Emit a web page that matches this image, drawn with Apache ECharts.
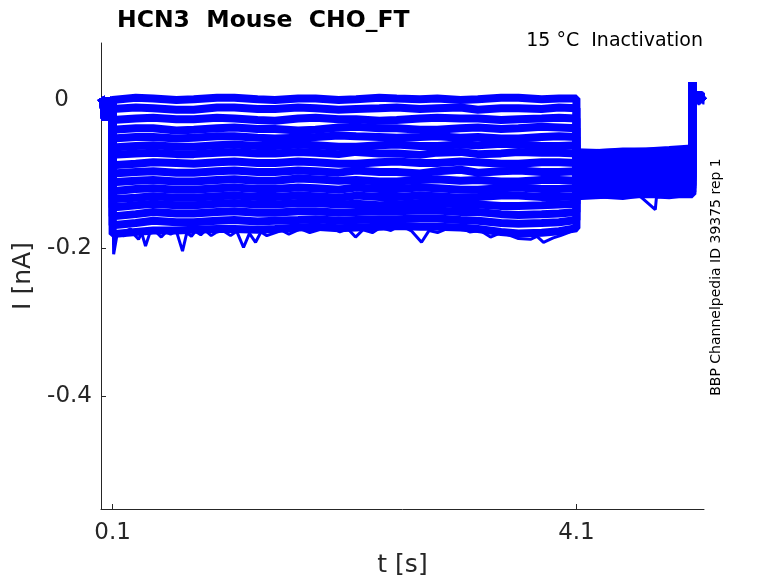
<!DOCTYPE html>
<html>
<head>
<meta charset="utf-8">
<script src="https://cdn.jsdelivr.net/npm/echarts@6/dist/echarts.min.js"></script>
<style>
  html, body { margin: 0; padding: 0; background: #fff; }
  #chart { width: 778px; height: 583px; }
</style>
</head>
<body>
<div id="chart"></div>
<script>
// holding before the step (shared by all sweeps)
const preTimes = [0, 0.02, 0.035, 0.045, 0.06, 0.08, 0.099];
const preValues = [0.003, -0.002, -0.027, -0.008, 0.001, -0.003, 0.0];

// step segment, 0.1 - 4.1 s
const stepTimes = [0.1, 0.3, 0.45, 0.65, 0.8, 1.0, 1.15, 1.35, 1.5, 1.7, 1.85, 2.05, 2.2, 2.4, 2.55, 2.75, 2.9, 3.1, 3.25, 3.45, 3.6, 3.8, 3.95, 4.1];
const sweepValues = [
  [0.001, 0.003, 0.002, 0.000, 0.001, 0.003, 0.003, 0.001, 0.000, 0.002, 0.002, 0.000, 0.001, 0.003, 0.002, 0.001, 0.002, 0.000, 0.001, 0.003, 0.003, 0.001, 0.002, 0.002],
  [-0.012, -0.010, -0.011, -0.013, -0.013, -0.010, -0.010, -0.012, -0.012, -0.010, -0.011, -0.013, -0.012, -0.011, -0.010, -0.012, -0.011, -0.010, -0.013, -0.011, -0.011, -0.012, -0.010, -0.011],
  [-0.027, -0.025, -0.024, -0.026, -0.026, -0.024, -0.025, -0.027, -0.028, -0.025, -0.024, -0.026, -0.026, -0.028, -0.027, -0.025, -0.024, -0.025, -0.025, -0.027, -0.026, -0.025, -0.024, -0.025],
  [-0.040, -0.038, -0.038, -0.041, -0.040, -0.038, -0.037, -0.039, -0.039, -0.041, -0.040, -0.037, -0.036, -0.038, -0.038, -0.040, -0.040, -0.038, -0.037, -0.039, -0.038, -0.036, -0.037, -0.038],
  [-0.052, -0.050, -0.050, -0.052, -0.051, -0.049, -0.049, -0.051, -0.052, -0.051, -0.050, -0.048, -0.049, -0.050, -0.051, -0.050, -0.049, -0.051, -0.050, -0.052, -0.052, -0.050, -0.049, -0.050],
  [-0.064, -0.062, -0.061, -0.063, -0.063, -0.061, -0.060, -0.062, -0.062, -0.060, -0.061, -0.063, -0.063, -0.061, -0.060, -0.062, -0.062, -0.060, -0.061, -0.059, -0.060, -0.062, -0.062, -0.061],
  [-0.074, -0.072, -0.071, -0.073, -0.073, -0.071, -0.070, -0.072, -0.072, -0.070, -0.071, -0.073, -0.070, -0.072, -0.072, -0.074, -0.071, -0.070, -0.073, -0.072, -0.070, -0.071, -0.071, -0.072],
  [-0.088, -0.086, -0.084, -0.085, -0.086, -0.084, -0.083, -0.085, -0.085, -0.083, -0.084, -0.086, -0.086, -0.084, -0.083, -0.085, -0.085, -0.083, -0.084, -0.086, -0.086, -0.084, -0.084, -0.085],
  [-0.099, -0.097, -0.096, -0.098, -0.098, -0.096, -0.095, -0.097, -0.097, -0.095, -0.096, -0.098, -0.095, -0.097, -0.097, -0.099, -0.096, -0.094, -0.098, -0.096, -0.095, -0.097, -0.097, -0.096],
  [-0.111, -0.109, -0.108, -0.110, -0.110, -0.108, -0.107, -0.109, -0.109, -0.106, -0.107, -0.109, -0.108, -0.110, -0.110, -0.108, -0.107, -0.109, -0.108, -0.110, -0.110, -0.108, -0.108, -0.109],
  [-0.123, -0.120, -0.119, -0.121, -0.121, -0.119, -0.118, -0.120, -0.120, -0.118, -0.119, -0.121, -0.118, -0.120, -0.120, -0.118, -0.119, -0.121, -0.121, -0.119, -0.118, -0.120, -0.120, -0.119],
  [-0.134, -0.132, -0.130, -0.132, -0.132, -0.130, -0.129, -0.131, -0.131, -0.129, -0.130, -0.132, -0.129, -0.131, -0.131, -0.129, -0.130, -0.132, -0.131, -0.129, -0.129, -0.131, -0.131, -0.130],
  [-0.145, -0.142, -0.140, -0.142, -0.142, -0.140, -0.139, -0.141, -0.141, -0.139, -0.139, -0.141, -0.140, -0.142, -0.141, -0.139, -0.139, -0.141, -0.141, -0.143, -0.143, -0.142, -0.141, -0.140],
  [-0.157, -0.154, -0.151, -0.153, -0.153, -0.151, -0.150, -0.152, -0.152, -0.150, -0.150, -0.152, -0.151, -0.150, -0.150, -0.149, -0.149, -0.151, -0.151, -0.154, -0.155, -0.154, -0.153, -0.151],
  [-0.169, -0.166, -0.163, -0.165, -0.165, -0.163, -0.162, -0.164, -0.163, -0.162, -0.161, -0.163, -0.162, -0.161, -0.161, -0.160, -0.160, -0.162, -0.163, -0.166, -0.167, -0.166, -0.165, -0.162],
  [-0.181, -0.178, -0.176, -0.176, -0.175, -0.174, -0.174, -0.175, -0.174, -0.172, -0.171, -0.173, -0.172, -0.171, -0.170, -0.171, -0.171, -0.172, -0.174, -0.178, -0.180, -0.179, -0.177, -0.173]
];

// deactivation tail, 4.1 - 5.1 s
const tailTimes = [4.1, 4.35, 4.6, 4.85, 5.1];
const tailValues = [
  [-0.072, -0.071, -0.070, -0.069, -0.068],
  [-0.078, -0.077, -0.076, -0.076, -0.075],
  [-0.084, -0.083, -0.083, -0.082, -0.082],
  [-0.090, -0.089, -0.089, -0.088, -0.088],
  [-0.095, -0.095, -0.094, -0.094, -0.093],
  [-0.100, -0.100, -0.099, -0.099, -0.099],
  [-0.105, -0.105, -0.104, -0.104, -0.104],
  [-0.110, -0.110, -0.109, -0.109, -0.109],
  [-0.115, -0.115, -0.114, -0.114, -0.114],
  [-0.120, -0.120, -0.119, -0.119, -0.119],
  [-0.125, -0.125, -0.124, -0.124, -0.124],
  [-0.128, -0.128, -0.127, -0.127, -0.127],
  [-0.098, -0.097, -0.096, -0.096, -0.095],
  [-0.087, -0.086, -0.086, -0.085, -0.085],
  [-0.108, -0.107, -0.107, -0.106, -0.106],
  [-0.118, -0.117, -0.117, -0.116, -0.116]
];

// back to holding after the tail
const endTimes = [5.1, 5.102, 5.12, 5.15, 5.18, 5.2];
const endValues = [0.024, 0.010, 0.004, 0.008, 0.003, 0.006];

// noisy block of the final holding segment
const endBlockTimes = [5.1, 5.105, 5.11, 5.115, 5.12, 5.125, 5.13, 5.135, 5.14, 5.145, 5.15, 5.155, 5.16, 5.165, 5.17, 5.175, 5.18, 5.185, 5.19, 5.195, 5.2];
const endBlockValues = [0.024, -0.006, 0.012, -0.008, 0.011, -0.007, 0.012, -0.005, 0.011, -0.006, 0.012, -0.007, 0.010, -0.006, 0.011, -0.004, 0.012, -0.005, 0.011, -0.006, 0.010];

// ragged lower edge of the step segment
const lowTimes = [0.105, 0.109, 0.14, 0.17, 0.2, 0.23, 0.255, 0.29, 0.324, 0.35, 0.384, 0.42, 0.47, 0.52, 0.56, 0.6, 0.65, 0.703,
  0.74, 0.78, 0.815, 0.86, 0.9, 0.95, 0.988, 1.05, 1.117, 1.17, 1.229, 1.28, 1.333, 1.38, 1.43, 1.505, 1.56, 1.62, 1.72, 1.8,
  1.88, 1.98, 2.06, 2.13, 2.195, 2.26, 2.34, 2.41, 2.5, 2.583, 2.68, 2.764, 2.83, 2.902, 2.98, 3.1, 3.18, 3.27, 3.359, 3.45,
  3.531, 3.6, 3.703, 3.76, 3.816, 3.9, 3.962, 4.03, 4.095];
const lowValues = [-0.15, -0.208, -0.180, -0.177, -0.184, -0.176, -0.174, -0.182, -0.188, -0.179, -0.197, -0.180, -0.177, -0.185,
  -0.178, -0.181, -0.177, -0.204, -0.179, -0.184, -0.177, -0.182, -0.176, -0.183, -0.179, -0.176, -0.183, -0.177, -0.199, -0.180,
  -0.192, -0.178, -0.183, -0.179, -0.176, -0.181, -0.174, -0.179, -0.175, -0.172, -0.178, -0.174, -0.185, -0.175, -0.179, -0.172,
  -0.176, -0.169, -0.177, -0.192, -0.176, -0.179, -0.174, -0.172, -0.178, -0.176, -0.185, -0.179, -0.183, -0.187, -0.188, -0.184,
  -0.192, -0.186, -0.183, -0.179, -0.174];

// ragged tail edges
const tailLowTimes = [4.1, 4.3, 4.5, 4.65, 4.78, 4.79, 4.9, 5.0, 5.09];
const tailLowValues = [-0.132, -0.131, -0.133, -0.130, -0.148, -0.131, -0.132, -0.130, -0.128];
const tailHighTimes = [4.1, 4.3, 4.5, 4.7, 4.9, 5.09];
const tailHighValues = [-0.067, -0.068, -0.066, -0.066, -0.064, -0.062];

const xTicks = [0.1, 4.1];
const yTicks = [0, -0.2, -0.4];

const blue = '#0000ff';
const series = [];

sweepValues.forEach((vals, i) => {
  const data = [];
  preTimes.forEach((t, k) => data.push([t, preValues[k]]));
  stepTimes.forEach((t, k) => data.push([t, vals[k]]));
  tailTimes.forEach((t, k) => data.push([t, tailValues[i][k]]));
  endTimes.forEach((t, k) => data.push([t, endValues[k]]));
  series.push({
    type: 'line', data, showSymbol: false, silent: true, animation: false,
    lineStyle: { color: blue, width: 8 }
  });
});

const edge = (times, values, w) => ({
  type: 'line', showSymbol: false, silent: true, animation: false,
  data: times.map((t, k) => [t, values[k]]),
  lineStyle: { color: blue, width: w }
});
series.push(edge(lowTimes, lowValues, 3));
series.push(edge(tailLowTimes, tailLowValues, 3));
series.push(edge(tailHighTimes, tailHighValues, 3));
series.push(edge(endBlockTimes, endBlockValues, 2));

const chart = echarts.init(document.getElementById('chart'));
chart.setOption({
  animation: false,
  title: {
    text: 'HCN3  Mouse  CHO_FT',
    left: 112, top: 4,
    textStyle: { fontFamily: 'DejaVu Sans', fontWeight: 'bold', fontSize: 23.5, color: '#000' }
  },
  grid: { left: 101, right: 74, top: 43, bottom: 71 },
  xAxis: {
    type: 'value', min: 0, max: 5.2,
    name: 't [s]', nameLocation: 'middle', nameGap: 44,
    nameTextStyle: { fontFamily: 'DejaVu Sans', fontSize: 25, color: '#262626' },
    axisLine: { onZero: false, lineStyle: { color: '#262626', width: 1 } },
    axisTick: { inside: true, length: 5, customValues: xTicks, lineStyle: { color: '#262626' } },
    axisLabel: { customValues: xTicks, formatter: v => String(v), fontFamily: 'DejaVu Sans', fontSize: 23, color: '#262626', margin: 13 },
    splitLine: { show: false }
  },
  yAxis: {
    type: 'value', min: -0.552, max: 0.077,
    name: 'I [nA]', nameLocation: 'middle', nameGap: 56,
    nameTextStyle: { fontFamily: 'DejaVu Sans', fontSize: 25, color: '#262626' },
    axisLine: { show: true, onZero: false, lineStyle: { color: '#262626', width: 1 } },
    axisTick: { show: true, inside: true, length: 5, customValues: yTicks, lineStyle: { color: '#262626' } },
    axisLabel: {
      customValues: yTicks,
      formatter: v => (v === 0 ? '{z|0}' : String(v)),
      fontFamily: 'DejaVu Sans', fontSize: 23, color: '#262626', margin: 9,
      rich: { z: { fontFamily: 'DejaVu Sans', fontSize: 23, color: '#262626', padding: [0, 23, 0, 0] } }
    },
    splitLine: { show: false }
  },
  graphic: [
    {
      type: 'text', right: 75, top: 32,
      style: { text: '15 °C  Inactivation', font: '19px "DejaVu Sans"', fill: '#000' }
    },
    {
      type: 'text', x: 716, y: 277, rotation: Math.PI / 2,
      style: { text: 'BBP Channelpedia ID 39375 rep 1', font: '14px "DejaVu Sans"', fill: '#000', align: 'center', verticalAlign: 'middle' }
    }
  ],
  series
});
</script>
</body>
</html>
